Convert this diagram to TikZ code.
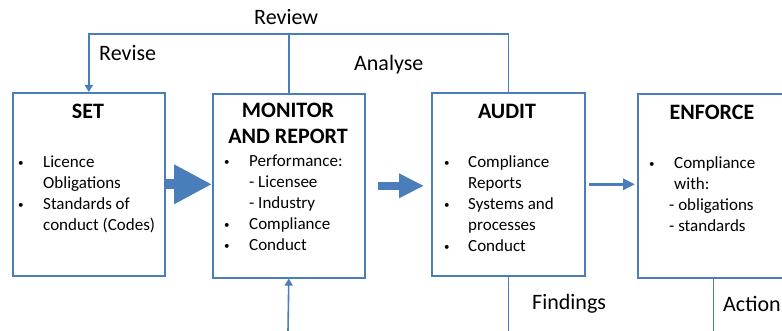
\documentclass[tikz,border=0pt]{standalone}
\usepackage{fontspec}
\setmainfont{Carlito}
\usetikzlibrary{arrows.meta}
\definecolor{ob}{HTML}{4A7EBB}
\newcommand{\smbul}{\hspace*{1pt}{\fontsize{11pt}{11pt}\selectfont\raisebox{1pt}{\textbullet}}}
\tikzset{
  box/.style={draw=ob, line width=1.6pt, inner sep=0pt, anchor=north west},
  title/.style={font=\bfseries\fontsize{22pt}{26pt}\selectfont, inner sep=0pt, anchor=base},
  body/.style={font=\fontsize{17pt}{21pt}\selectfont, inner sep=0pt, anchor=base west},
  lbl/.style={font=\fontsize{22pt}{26pt}\selectfont, inner sep=0pt, anchor=base west},
  conn/.style={draw=ob, line width=1.6pt},
  tip/.style={-{Triangle[length=7pt,width=8pt]}},
  bigA/.style={draw=ob, line width=10pt, -{Triangle[length=38pt,width=37pt]}},
  bigB/.style={draw=ob, line width=8pt, -{Triangle[length=25pt,width=23pt]}, shorten <=12pt, shorten >=7pt},
  bigC/.style={draw=ob, line width=3pt, -{Triangle[length=12pt,width=11pt]}, shorten <=3pt, shorten >=2pt},
}
\begin{document}
\begin{tikzpicture}[x=1pt,y=-1pt]
\clip (0,0) rectangle (782,331);
\fill[white] (0,0) rectangle (782,331);
% boxes
\node[box, minimum width=152pt, minimum height=183pt] (set) at (12,92) {};
\node[box, minimum width=152pt, minimum height=184pt] (mon) at (212,93) {};
\node[box, minimum width=153pt, minimum height=183pt] (aud) at (431,92) {};
\node[box, minimum width=151pt, minimum height=184pt] (enf) at (637,93) {};
% titles
\node[title] (settitle) at (88,119) {SET};
\node[title] (montitle) at (288,118) {\begin{tabular}[t]{@{}c@{}}MONITOR\\AND REPORT\end{tabular}};
\node[title] (audtitle) at (507,119) {AUDIT};
\node[title] (enftitle) at (712,120) {ENFORCE};
% bodies
\node[body] (setbody) at (17,167.5) {\begin{tabular}[t]{@{}p{26pt}@{}l@{}}
\smbul & Licence\\ & Obligations\\ \smbul & Standards of\\ & conduct (Codes)\end{tabular}};
\node[body] (monbody) at (223,166.5) {\begin{tabular}[t]{@{}p{26pt}@{}l@{}}
\smbul & Performance:\\ & - Licensee\\ & - Industry\\ \smbul & Compliance\\ \smbul & Conduct\end{tabular}};
\node[body] (audbody) at (443,167.5) {\begin{tabular}[t]{@{}p{25pt}@{}l@{}}
\smbul & Compliance\\ & Reports\\ \smbul & Systems and\\ & processes\\ \smbul & Conduct\end{tabular}};
\node[body] (enfbody) at (648,168.5) {\begin{tabular}[t]{@{}p{26pt}@{}l@{}}
\smbul & Compliance\\ & with:\\ & \hspace{-5pt}- obligations\\ & \hspace{-5pt}- standards\end{tabular}};
% labels
\node[lbl] (review) at (254,25) {Review};
\node[lbl] (revise) at (99,61) {Revise};
\node[lbl] (analyse) at (354,71) {Analyse};
\node[lbl] (findings) at (532,309) {Findings};
\node[lbl] (action) at (723,311) {Action};
% main flow arrows
\draw[bigA] (set.east) -- (set.east -| mon.west);
\draw[bigB] (mon.east) -- (mon.east -| aud.west);
\draw[bigC] (aud.east) -- (aud.east -| enf.west);
% feedback loop
\coordinate (fb) at (288,34);
\coordinate (bottom) at (288,331);
\draw[conn] (aud.north) |- (fb);
\draw[conn, tip] (fb) -| (set.north);
\draw[conn] (mon.north) -- (mon.north |- fb);
\draw[conn, tip] (bottom) -- (mon.south);
\draw[conn] (aud.south) -- (aud.south |- bottom);
\draw[conn] (enf.south) -- (enf.south |- bottom);
\end{tikzpicture}
\end{document}
